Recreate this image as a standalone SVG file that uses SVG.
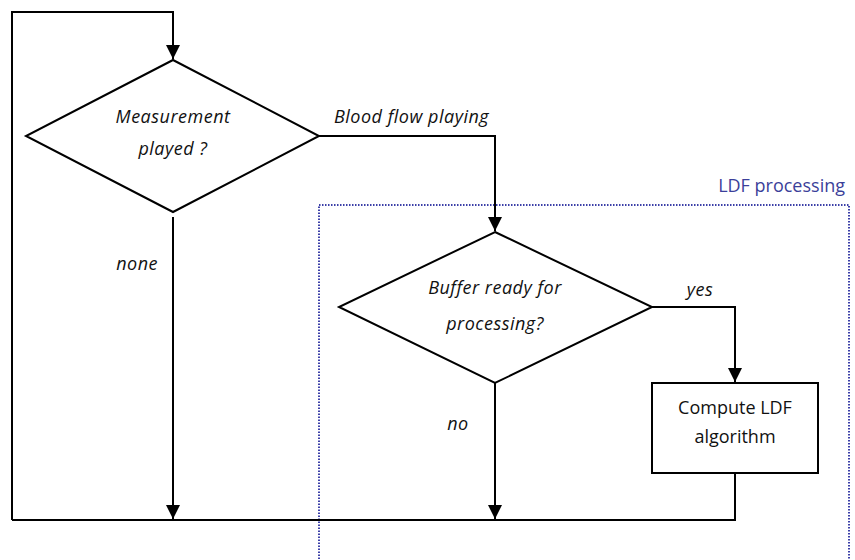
<svg xmlns="http://www.w3.org/2000/svg" width="855" height="560" viewBox="0 0 855 560">
  <style>
    .shape { fill: #ffffff; stroke: #000000; stroke-width: 2; }
    .line { fill: none; stroke: #000000; stroke-width: 2; }
    .lbl { font-family: "Open Sans", "Liberation Sans", sans-serif; font-size: 18px; font-style: italic; letter-spacing: 0.5px; fill: #111111; }
    .txt { font-family: "Open Sans", "Liberation Sans", sans-serif; font-size: 18px; fill: #111111; }
    .group-title { font-family: "Open Sans", "Liberation Sans", sans-serif; font-size: 18px; fill: #3b3f9a; }
    .frame { fill: none; stroke: #3b3fa8; stroke-width: 2; stroke-dasharray: 1.5 1.5; }
  </style>
  <defs>
    <marker id="arrow" viewBox="0 0 10 10" refX="10" refY="5" markerWidth="14" markerHeight="14" markerUnits="userSpaceOnUse" orient="auto">
      <path d="M0,0 L10,5 L0,10 z" fill="#000000"/>
    </marker>
  </defs>

  <rect width="855" height="560" fill="#ffffff"/>

  <!-- LDF processing region -->
  <g id="ldf-processing">
    <rect class="frame" x="319" y="205" width="530" height="370"/>
    <text class="group-title" x="845" y="192" text-anchor="end">LDF processing</text>
  </g>

  <!-- Connectors -->
  <g id="connectors">
    <polyline class="line" points="12,520 12,12 173,12 173,59" marker-end="url(#arrow)"/>
    <polyline class="line" points="319,136 495,136 495,231" marker-end="url(#arrow)"/>
    <line class="line" x1="173" y1="217" x2="173" y2="519" marker-end="url(#arrow)"/>
    <polyline class="line" points="652,307 735,307 735,382" marker-end="url(#arrow)"/>
    <line class="line" x1="495" y1="383" x2="495" y2="519" marker-end="url(#arrow)"/>
    <polyline class="line" points="735,473 735,520 12,520"/>
    <text class="lbl" x="334" y="123">Blood flow playing</text>
    <text class="lbl" x="158" y="270" text-anchor="end">none</text>
    <text class="lbl" x="700" y="296" text-anchor="middle">yes</text>
    <text class="lbl" x="458" y="430" text-anchor="middle">no</text>
  </g>

  <!-- Decision: measurement played -->
  <g id="measurement-played">
    <polygon class="shape" points="173,60 319,136 173,212 26,136"/>
    <text class="lbl" x="173" y="123" text-anchor="middle">Measurement</text>
    <text class="lbl" x="173" y="155" text-anchor="middle">played ?</text>
  </g>

  <!-- Decision: buffer ready -->
  <g id="buffer-ready">
    <polygon class="shape" points="495,232 652,307 495,383 339,307"/>
    <text class="lbl" x="495" y="294" text-anchor="middle">Buffer ready for</text>
    <text class="lbl" x="495" y="330" text-anchor="middle">processing?</text>
  </g>

  <!-- Process: compute LDF -->
  <g id="compute-ldf">
    <rect class="shape" x="652" y="383" width="166" height="90"/>
    <text class="txt" x="735" y="414" text-anchor="middle">Compute LDF</text>
    <text class="txt" x="735" y="443" text-anchor="middle">algorithm</text>
  </g>
</svg>
